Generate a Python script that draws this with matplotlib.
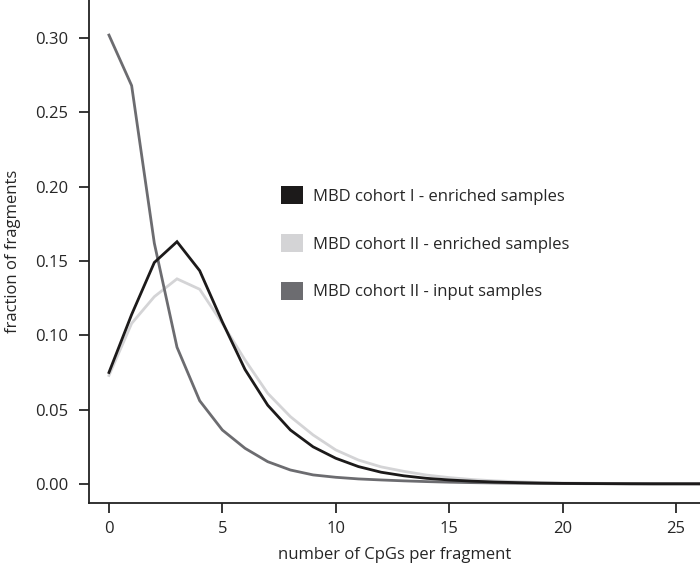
import numpy as np
import matplotlib
matplotlib.use("Agg")
import matplotlib.pyplot as plt
from matplotlib.patches import Patch

plt.rcParams['font.family'] = ['Open Sans', 'DejaVu Sans']

# number of CpGs per fragment
cpgs = list(range(0, 27))

# MBD cohort I - enriched samples
cohort1_enriched = [0.075, 0.114, 0.149, 0.163, 0.1435, 0.109, 0.077, 0.053, 0.0363, 0.025,
                    0.0173, 0.0117, 0.0079, 0.0055, 0.0038, 0.0027, 0.0019, 0.0013, 0.0009,
                    0.0006, 0.0004, 0.0003, 0.0002, 0.00015, 0.0001, 0.0001, 0.0001]
# MBD cohort II - enriched samples
cohort2_enriched = [0.073, 0.108, 0.126, 0.138, 0.131, 0.108, 0.0834, 0.061, 0.0453, 0.033,
                    0.0229, 0.0161, 0.0115, 0.0085, 0.006, 0.0043, 0.003, 0.0021, 0.0015,
                    0.001, 0.0007, 0.0005, 0.0004, 0.0003, 0.0002, 0.0002, 0.0001]
# MBD cohort II - input samples
cohort2_input = [0.302, 0.268, 0.162, 0.092, 0.0560, 0.0363, 0.024, 0.015, 0.0094, 0.0061,
                 0.0045, 0.0034, 0.0027, 0.0021, 0.0016, 0.0012, 0.0009, 0.0007, 0.0005,
                 0.0004, 0.0003, 0.0002, 0.0002, 0.0001, 0.0001, 0.0001, 0.0001]

labels = ['MBD cohort I - enriched samples',
          'MBD cohort II - enriched samples',
          'MBD cohort II - input samples']
COL_BLACK = '#1c1a1a'
COL_LIGHT = '#d4d4d6'
COL_DARK = '#6c6c70'
TXT = '#262626'

fig = plt.figure(figsize=(7.0, 5.67), dpi=100)
ax = fig.add_axes([89/700, 1 - 503/567, 611/700, 503/567])

ax.plot(cpgs, cohort2_enriched, color=COL_LIGHT, lw=2.0, solid_joinstyle='miter')
ax.plot(cpgs, cohort2_input, color=COL_DARK, lw=2.0, solid_joinstyle='miter')
ax.plot(cpgs, cohort1_enriched, color=COL_BLACK, lw=2.0, solid_joinstyle='miter')

ax.set_xlim(-0.88, 26.06)
ax.set_ylim(-0.0128, 0.3256)
ax.set_xticks([0, 5, 10, 15, 20, 25])
ax.set_yticks([0.0, 0.05, 0.10, 0.15, 0.20, 0.25, 0.30])
ax.set_yticklabels(['0.00', '0.05', '0.10', '0.15', '0.20', '0.25', '0.30'])
ax.spines['top'].set_visible(False)
ax.spines['right'].set_visible(False)
for s in ('left', 'bottom'):
    ax.spines[s].set_linewidth(1.3)
    ax.spines[s].set_color('#222222')
ax.tick_params(direction='out', length=7, width=1.3, labelsize=12,
               colors=TXT, pad=8)
ax.tick_params(axis='x', pad=6)
ax.set_xlabel('number of CpGs per fragment', fontsize=12, color=TXT, labelpad=7)
ax.set_ylabel('fraction of fragments', fontsize=12, color=TXT, labelpad=10)

handles = [Patch(facecolor=COL_BLACK, edgecolor='none'),
           Patch(facecolor=COL_LIGHT, edgecolor='none'),
           Patch(facecolor=COL_DARK, edgecolor='none')]
ax.legend(handles, labels, loc='upper left', bbox_to_anchor=(0.29, 0.66),
          frameon=False, fontsize=12, handlelength=1.3, handleheight=1.3,
          labelspacing=1.75, handletextpad=0.6, labelcolor=TXT)

fig.savefig('out.png', dpi=100)
